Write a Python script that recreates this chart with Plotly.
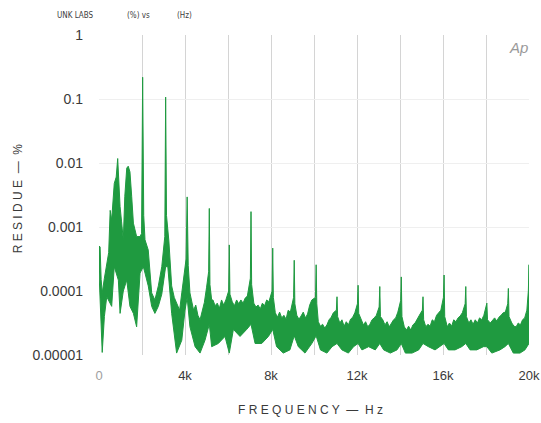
import plotly.graph_objects as go

# ---- data: frequency in kHz, residue as log10(%) ----
upper_f = [0.0, 0.05, 0.1, 0.15, 0.25, 0.36, 0.45, 0.52, 0.59, 0.71, 0.8, 0.87, 0.93, 0.98,
           1.05, 1.13, 1.2, 1.29, 1.36, 1.44, 1.52, 1.6, 1.75, 1.91, 1.98, 2.03, 2.08, 2.14,
           2.29, 2.45, 2.6, 2.76, 2.92, 3.06, 3.1, 3.14, 3.25, 3.38, 3.5, 3.61, 3.75, 3.85,
           4.05, 4.1, 4.15, 4.23,
           4.3, 4.4, 4.5, 4.6, 4.7, 4.8, 4.9, 5.0, 5.10, 5.13, 5.16, 5.24,
           5.3, 5.4, 5.5, 5.6, 5.7, 5.8, 5.9, 6.03, 6.06, 6.09,
           6.2, 6.3, 6.4, 6.5, 6.6, 6.7, 6.8, 6.9, 7.04, 7.07, 7.10,
           7.2, 7.3, 7.4, 7.5, 7.6, 7.7, 7.8, 7.9, 8.05, 8.08, 8.11,
           8.2, 8.3, 8.4, 8.5, 8.6, 8.7, 8.8, 8.9, 9.05, 9.08, 9.11,
           9.2, 9.3, 9.4, 9.5, 9.6, 9.7, 9.8, 9.9, 10.07, 10.1, 10.13,
           10.2, 10.3, 10.4, 10.5, 10.6, 10.7, 10.8, 10.9, 11.04, 11.07, 11.10,
           11.2, 11.3, 11.4, 11.5, 11.6, 11.7, 11.8, 11.9, 12.02, 12.05, 12.08,
           12.2, 12.3, 12.4, 12.5, 12.6, 12.7, 12.8, 12.9, 13.03, 13.06, 13.09,
           13.2, 13.3, 13.4, 13.5, 13.6, 13.7, 13.8, 13.9, 14.03, 14.06, 14.09,
           14.2, 14.3, 14.4, 14.5, 14.6, 14.7, 14.8, 14.9, 15.04, 15.07, 15.10,
           15.2, 15.3, 15.4, 15.5, 15.6, 15.7, 15.8, 15.9, 16.02, 16.05, 16.08,
           16.2, 16.3, 16.4, 16.5, 16.6, 16.7, 16.8, 16.9, 17.03, 17.06, 17.09,
           17.2, 17.3, 17.4, 17.5, 17.6, 17.7, 17.8, 17.9, 18.04, 18.07,
           18.2, 18.3, 18.4, 18.5, 18.6, 18.7, 18.8, 18.9, 19.01, 19.04, 19.07,
           19.2, 19.3, 19.4, 19.5, 19.6, 19.7, 19.8, 19.9, 19.97, 20.0]
upper_log = [-3.30, -3.31, -3.82, -4.03, -3.80, -3.57, -3.40, -2.74, -2.89, -2.32, -2.22, -1.93, -2.40, -2.68,
             -2.92, -3.20, -2.52, -2.08, -2.05, -2.14, -2.52, -2.94, -3.15, -3.15, -3.10, -0.66, -2.82, -3.20,
             -3.36, -4.03, -4.14, -3.92, -3.62, -3.15, -0.97, -2.82, -3.22, -3.92, -4.10, -4.19, -4.30, -4.03,
             -3.50, -2.53, -3.60, -4.03,
             -4.15, -4.30, -4.22, -4.38, -4.45, -4.32, -4.18, -3.95, -3.70, -2.71, -3.90, -4.14,
             -4.14, -4.23, -4.19, -4.27, -4.14, -4.22, -4.14, -4.00, -3.28, -4.05,
             -4.17, -4.23, -4.14, -4.20, -4.14, -4.19, -4.11, -4.08, -3.80, -2.76, -3.90,
             -4.19, -4.25, -4.22, -4.28, -4.19, -4.23, -4.14, -4.17, -4.00, -3.33, -4.10,
             -4.34, -4.41, -4.33, -4.42, -4.38, -4.44, -4.30, -4.33, -4.10, -3.52, -4.20,
             -4.38, -4.44, -4.39, -4.33, -4.42, -4.36, -4.22, -4.14, -4.10, -3.59, -4.20,
             -4.48, -4.55, -4.52, -4.58, -4.53, -4.45, -4.41, -4.34, -4.30, -4.09, -4.40,
             -4.50, -4.45, -4.55, -4.48, -4.53, -4.44, -4.41, -4.34, -4.20, -3.91, -4.35,
             -4.45, -4.53, -4.48, -4.56, -4.52, -4.45, -4.42, -4.38, -4.25, -3.93, -4.40,
             -4.45, -4.53, -4.48, -4.56, -4.50, -4.45, -4.42, -4.33, -4.15, -3.78, -4.40,
             -4.56, -4.61, -4.55, -4.61, -4.53, -4.50, -4.45, -4.38, -4.30, -4.09, -4.45,
             -4.56, -4.52, -4.55, -4.45, -4.48, -4.38, -4.34, -4.30, -4.10, -3.75, -4.40,
             -4.56, -4.50, -4.55, -4.45, -4.48, -4.42, -4.39, -4.34, -4.20, -3.93, -4.40,
             -4.50, -4.45, -4.52, -4.45, -4.50, -4.42, -4.45, -4.38, -4.19, -4.45,
             -4.50, -4.45, -4.42, -4.47, -4.41, -4.38, -4.34, -4.33, -4.20, -3.96, -4.40,
             -4.50, -4.55, -4.56, -4.50, -4.53, -4.45, -4.42, -4.30, -4.00, -3.59]

lower_f = [0.0, 0.05, 0.15, 0.25, 0.36, 0.59, 0.71, 0.9, 0.98, 1.13, 1.29, 1.44, 1.6, 1.75,
           1.91, 2.06, 2.14, 2.29, 2.45, 2.6, 2.76, 2.92, 3.1, 3.2, 3.38, 3.61, 3.85, 4.0, 4.1,
           4.23, 4.47, 4.7, 4.93, 5.13, 5.24, 5.55, 5.86, 6.06, 6.25, 6.56, 6.87, 7.07, 7.26,
           7.57, 7.88, 8.08, 8.26, 8.57, 8.88, 9.08, 9.27, 9.58, 9.9, 10.1, 10.3, 10.6, 10.84,
           11.07, 11.3, 11.6, 11.84, 12.05, 12.23, 12.54, 12.85, 13.06, 13.24, 13.55, 13.86,
           14.06, 14.25, 14.56, 14.87, 15.07, 15.32, 15.63, 15.86, 16.05, 16.25, 16.56, 16.87,
           17.06, 17.26, 17.57, 17.88, 18.04, 18.27, 18.65, 18.88, 19.04, 19.27, 19.58, 19.81, 20.0]
lower_log = [-3.70, -4.24, -4.96, -4.40, -4.09, -4.24, -3.62, -3.83, -4.35, -4.00, -3.83, -4.24, -4.35, -4.56,
             -3.72, -3.62, -3.72, -3.92, -4.24, -4.35, -4.24, -4.05, -3.62, -3.62, -4.35, -4.97, -4.77, -4.30, -4.10,
             -4.56, -4.87, -4.97, -4.77, -4.52, -4.87, -4.82, -4.71, -4.97, -4.60, -4.71, -4.60, -4.52, -4.82,
             -4.82, -4.71, -4.60, -4.87, -4.97, -4.92, -4.70, -4.87, -4.97, -4.82, -4.70, -4.92, -4.97, -4.87,
             -4.82, -4.92, -4.97, -4.87, -4.82, -4.92, -4.87, -4.92, -4.82, -4.92, -4.97, -4.92,
             -4.82, -4.97, -4.97, -4.92, -4.82, -4.87, -4.92, -4.87, -4.82, -4.92, -4.92, -4.87,
             -4.82, -4.92, -4.92, -4.87, -4.87, -4.97, -4.92, -4.87, -4.82, -4.97, -4.97, -4.92, -4.82]

x_tickvals = [0, 2, 4, 6, 8, 10, 12, 14, 16, 18, 20]
x_ticktext = ["<span style='color:#a0a0a0'>0</span>", "", "4k", "", "8k", "", "12k", "", "16k", "", "20k"]
y_tickvals = [1e-5, 1e-4, 1e-3, 1e-2, 1e-1, 1]
y_ticktext = ["0.00001", "0.0001", "0.001", "0.01", "0.1", "1"]

GREEN = "#1f9a40"

upper_v = [10 ** e for e in upper_log]
lower_v = [10 ** e for e in lower_log]
poly_x = upper_f + lower_f[::-1]
poly_y = upper_v + lower_v[::-1]

fig = go.Figure()
fig.add_trace(go.Scatter(x=poly_x, y=poly_y, mode="lines", fill="toself",
                         fillcolor=GREEN, line=dict(color=GREEN, width=1),
                         hoverinfo="skip", showlegend=False))

TXT = "#3a3a3a"
HDR = "#404040"
fig.update_layout(
    width=541, height=423,
    margin=dict(l=99, r=12, t=35, b=68),
    paper_bgcolor="white", plot_bgcolor="white",
    font=dict(family="Liberation Sans, Arial, sans-serif", color=TXT),
    showlegend=False,
    xaxis=dict(range=[0, 20], tickvals=x_tickvals, ticktext=x_ticktext, automargin=False,
               showgrid=True, gridcolor="#d4d4d4", gridwidth=1, zeroline=False,
               ticks="", showline=False, tickfont=dict(size=13, color=TXT),
               ticklabelstandoff=11),
    yaxis=dict(type="log", range=[-5, 0], tickvals=y_tickvals, ticktext=y_ticktext, automargin=False,
               showgrid=True, gridcolor="#efefef", gridwidth=1, zeroline=False,
               ticks="", showline=False, tickfont=dict(size=14, color=TXT),
               ticklabelstandoff=15),
    annotations=[
        dict(text="F R E Q U E N C Y  —  H z", xref="paper", yref="paper", x=0.493, y=-0.172,
             showarrow=False, font=dict(size=12, color=TXT), xanchor="center", yanchor="middle"),
        dict(text="R E S I D U E  —  %", xref="paper", yref="paper", x=-0.188, y=0.49,
             textangle=-90, showarrow=False, font=dict(size=12, color=TXT),
             xanchor="center", yanchor="middle"),
        dict(text="UNK LABS", xref="paper", yref="paper", x=-0.102, y=1.0625, showarrow=False,
             font=dict(size=8, color=HDR, family="DejaVu Sans Condensed, Liberation Sans Narrow, sans-serif"),
             xanchor="left", yanchor="middle"),
        dict(text="(%) vs", xref="paper", yref="paper", x=0.060, y=1.0625, showarrow=False,
             font=dict(size=8, color=HDR, family="DejaVu Sans Condensed, Liberation Sans Narrow, sans-serif"),
             xanchor="left", yanchor="middle"),
        dict(text="(Hz)", xref="paper", yref="paper", x=0.177, y=1.0625, showarrow=False,
             font=dict(size=8, color=HDR, family="DejaVu Sans Condensed, Liberation Sans Narrow, sans-serif"),
             xanchor="left", yanchor="middle"),
        dict(text="<i>Ap</i>", xref="paper", yref="paper", x=0.975, y=0.962, showarrow=False,
             font=dict(size=15, color="#9a9a9a"), xanchor="center", yanchor="middle"),
    ],
)

fig.write_html("out.html", config={"displayModeBar": False},
               post_script="document.body.style.margin='0';")
